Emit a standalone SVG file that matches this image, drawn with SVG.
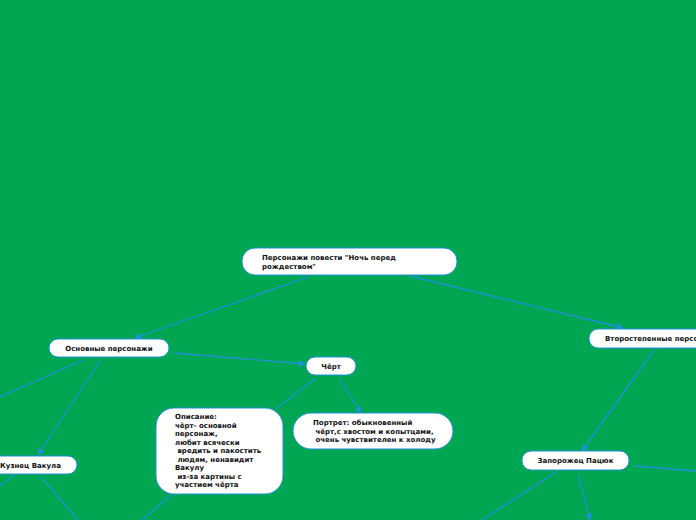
<svg xmlns="http://www.w3.org/2000/svg" width="696" height="520" viewBox="0 0 696 520">
<defs>
<marker id="ah" viewBox="0 0 10 10" refX="9" refY="5" markerWidth="7" markerHeight="7" markerUnits="userSpaceOnUse" orient="auto">
<path d="M0,0 L10,5 L0,10 z" fill="#2190dc"/>
</marker>
<style>
.n{fill:#fff;stroke:#2190dc;stroke-width:1}
.t{font-family:"DejaVu Sans",Verdana,sans-serif;font-size:7px;font-weight:bold;fill:#111}
.c{stroke:#2190dc;stroke-width:1.3;fill:none}
.a{marker-end:url(#ah)}
</style>
</defs>
<rect width="696" height="520" fill="#00a651"/>
<g id="connectors">
<line class="c a" x1="308" y1="277" x2="135" y2="338"/>
<line class="c a" x1="410" y1="276" x2="623" y2="328"/>
<line class="c a" x1="174" y1="353" x2="305" y2="364"/>
<line class="c" x1="83" y1="360" x2="0" y2="397"/>
<line class="c a" x1="100" y1="361" x2="38" y2="455"/>
<line class="c" x1="316" y1="378" x2="276" y2="409" stroke-width="2.2"/>
<line class="c a" x1="339" y1="378" x2="361" y2="413"/>
<line class="c" x1="172" y1="494" x2="142" y2="520"/>
<line class="c" x1="15" y1="474" x2="0" y2="486"/>
<line class="c" x1="41" y1="477" x2="78" y2="520"/>
<line class="c a" x1="654" y1="350" x2="582" y2="451"/>
<line class="c" x1="634" y1="466" x2="696" y2="471"/>
<line class="c" x1="556" y1="472" x2="482" y2="520"/>
<line class="c a" x1="578" y1="474" x2="590" y2="520"/>
</g>
<g id="root">
<rect class="n" x="242" y="248" width="215" height="27" rx="13"/>
<text class="t" x="262" y="260">Персонажи повести "Ночь перед</text>
<text class="t" x="262" y="269">рождеством"</text>
</g>
<g id="main">
<rect class="n" x="49" y="339" width="120" height="18" rx="9"/>
<text class="t" x="109" y="351" text-anchor="middle">Основные персонажи</text>
</g>
<g id="chert">
<rect class="n" x="306" y="357" width="50" height="18" rx="9"/>
<text class="t" x="331" y="369" text-anchor="middle">Чёрт</text>
</g>
<g id="opisanie">
<rect class="n" x="156" y="408" width="127" height="86" rx="18"/>
<text class="t" x="175" y="419">Описание:</text>
<text class="t" x="175" y="428">чёрт- основной</text>
<text class="t" x="175" y="436">персонаж,</text>
<text class="t" x="175" y="445">любит всячески</text>
<text class="t" x="175" y="453" xml:space="preserve"> вредить и пакостить</text>
<text class="t" x="175" y="462" xml:space="preserve"> людям, ненавидит</text>
<text class="t" x="175" y="470">Вакулу</text>
<text class="t" x="175" y="479" xml:space="preserve"> из-за картины с</text>
<text class="t" x="175" y="487">участием чёрта</text>
</g>
<g id="portret">
<rect class="n" x="293" y="413" width="160" height="36" rx="18"/>
<text class="t" x="313" y="425">Портрет: обыкновенный</text>
<text class="t" x="313" y="434" xml:space="preserve"> чёрт,с хвостом и копытцами,</text>
<text class="t" x="313" y="442" xml:space="preserve"> очень чувствителен к холоду</text>
</g>
<g id="secondary">
<rect class="n" x="589" y="329" width="150" height="19" rx="9"/>
<text class="t" x="605" y="341">Второстепенные персонажи</text>
</g>
<g id="vakula">
<rect class="n" x="-16" y="456" width="93" height="18" rx="9"/>
<text class="t" x="30.5" y="468" text-anchor="middle">Кузнец Вакула</text>
</g>
<g id="patsyuk">
<rect class="n" x="522" y="451" width="107" height="19" rx="9"/>
<text class="t" x="575.5" y="463" text-anchor="middle">Запорожец Пацюк</text>
</g>
</svg>
